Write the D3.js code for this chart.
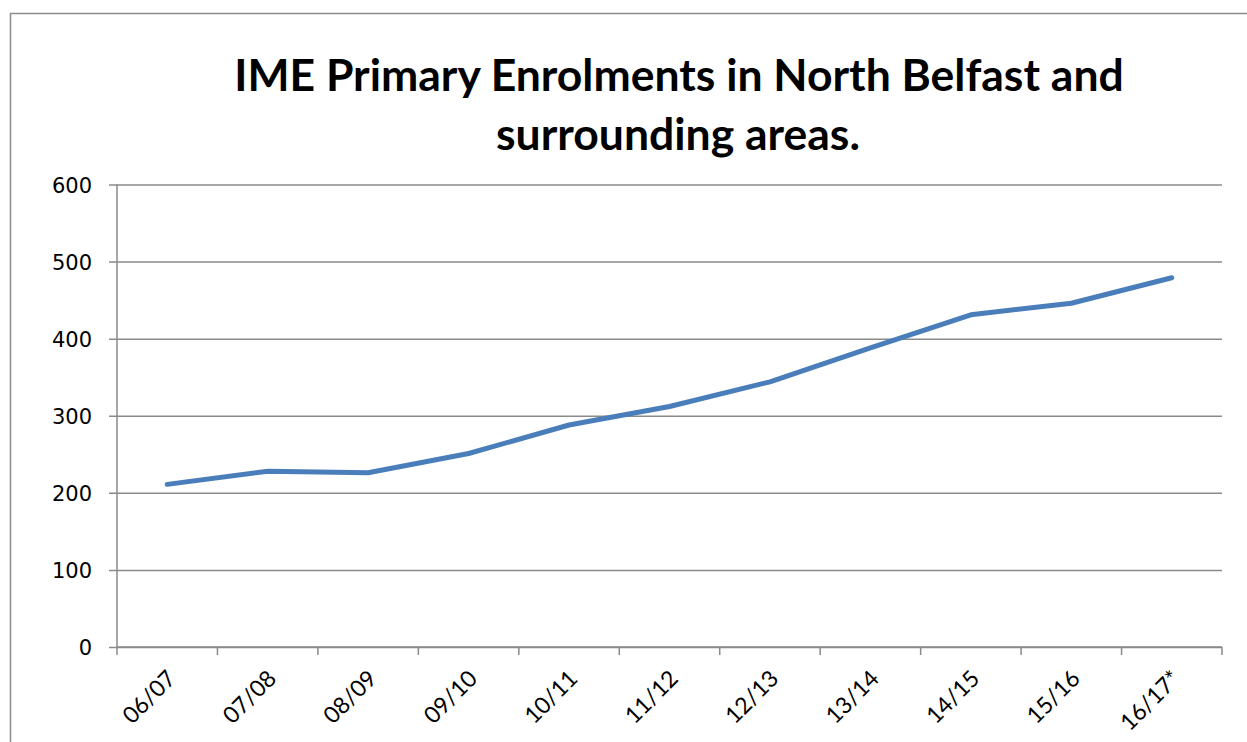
<!DOCTYPE html>
<html>
<head>
<meta charset="utf-8">
<script src="https://cdn.jsdelivr.net/npm/d3@7"></script>
<style>
  html, body { margin: 0; padding: 0; background: #fff; }
  svg { display: block; }
</style>
</head>
<body>
<svg id="chart" width="1247" height="742"></svg>
<script>
// School years and primary enrolment counts
const years = ["06/07", "07/08", "08/09", "09/10", "10/11", "11/12", "12/13", "13/14", "14/15", "15/16", "16/17*"];
const enrolments = [211, 228, 226, 251, 288, 312, 344, 388, 431, 446, 479];
const yTicks = [0, 100, 200, 300, 400, 500, 600];
const titleLines = ["IME Primary Enrolments in North Belfast and", "surrounding areas."];

const W = 1247, H = 742;
const margin = { left: 117, right: 25, top: 184.5, bottom: 95 };
const svg = d3.select("#chart");

const gridColor = "#8a8a8a";
const lineColor = "#4a7ebb";

// Outer chart frame (runs off the right and bottom edges)
svg.append("path")
  .attr("d", `M10.5,${H + 2} L10.5,13.5 L${W + 2},13.5`)
  .attr("fill", "none")
  .attr("stroke", "#8c8c8c")
  .attr("stroke-width", 1.5);

const x = d3.scaleBand()
  .domain(years)
  .range([margin.left, W - margin.right])
  .paddingInner(0).paddingOuter(0);

const y = d3.scaleLinear()
  .domain([0, 600])
  .range([H - margin.bottom, margin.top]);

// Horizontal gridlines with short ticks on the left
const yAxis = d3.axisLeft(y)
  .tickValues(yTicks)
  .tickSize(-(W - margin.right - margin.left))
  .tickPadding(25)
  .tickFormat(d3.format("d"));

const gy = svg.append("g")
  .attr("transform", `translate(${margin.left},0)`)
  .call(yAxis);
gy.select(".domain").remove();
gy.selectAll(".tick line")
  .attr("x1", -8)
  .attr("stroke", gridColor)
  .attr("stroke-width", 1.5);
gy.selectAll(".tick text")
  .attr("font-family", "'DejaVu Sans', sans-serif")
  .attr("font-size", 21)
  .attr("fill", "#000")
  .attr("dy", "0.36em");

// Vertical axis line
svg.append("line")
  .attr("x1", margin.left).attr("x2", margin.left)
  .attr("y1", y(600)).attr("y2", y(0))
  .attr("stroke", gridColor).attr("stroke-width", 1.5);

// Category axis: ticks at band boundaries, labels rotated
const gx = svg.append("g")
  .attr("transform", `translate(0,${y(0)})`);
gx.append("line")
  .attr("x1", margin.left).attr("x2", W - margin.right)
  .attr("stroke", gridColor).attr("stroke-width", 1.5);
const boundaries = years.map(d => x(d)).concat([x(years[years.length - 1]) + x.bandwidth()]);
gx.selectAll("line.tk")
  .data(boundaries)
  .join("line")
  .attr("class", "tk")
  .attr("x1", d => d).attr("x2", d => d)
  .attr("y1", 0).attr("y2", 8)
  .attr("stroke", gridColor).attr("stroke-width", 1.5);
gx.selectAll("text.lbl")
  .data(years)
  .join("text")
  .attr("class", "lbl")
  .attr("transform", d => `translate(${x(d) + x.bandwidth() / 2 + 10},${33}) rotate(-45)`)
  .attr("text-anchor", "end")
  .attr("font-family", "Lato, 'Open Sans', sans-serif")
  .attr("font-size", 23)
  .attr("fill", "#000")
  .text(d => d);

// Enrolment line
const line = d3.line()
  .x((d, i) => x(years[i]) + x.bandwidth() / 2)
  .y(d => y(d));
svg.append("path")
  .datum(enrolments)
  .attr("d", line)
  .attr("fill", "none")
  .attr("stroke", lineColor)
  .attr("stroke-width", 5)
  .attr("stroke-linecap", "round")
  .attr("stroke-linejoin", "round");

// Two-line bold title
const title = svg.append("g")
  .attr("font-family", "Lato, 'Open Sans', sans-serif")
  .attr("font-weight", "bold")
  .attr("font-size", 44.5)
  .attr("text-anchor", "middle")
  .attr("fill", "#000");
title.append("text").attr("x", 679).attr("y", 91).text(titleLines[0]);
title.append("text").attr("x", 678).attr("y", 150).text(titleLines[1]);
</script>
</body>
</html>
